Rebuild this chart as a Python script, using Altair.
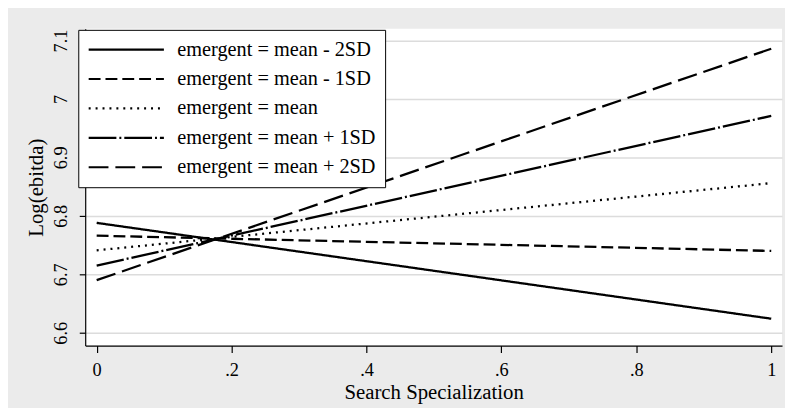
import altair as alt
import pandas as pd

series = [
    "emergent = mean - 2SD",
    "emergent = mean - 1SD",
    "emergent = mean",
    "emergent = mean + 1SD",
    "emergent = mean + 2SD",
]
x_points = [0, 1]
start_vals = [6.788, 6.766, 6.741, 6.715, 6.690]
end_vals = [6.624, 6.740, 6.856, 6.971, 7.086]
dash_styles = [[1, 0], [12, 5], [2, 5], [28, 3, 2, 3], [20, 7]]
x_ticks = [0, 0.2, 0.4, 0.6, 0.8, 1]
y_ticks = [6.6, 6.7, 6.8, 6.9, 7.0, 7.1]

rows = []
for s, a, b in zip(series, start_vals, end_vals):
    rows.append({"series": s, "x": x_points[0], "y": a})
    rows.append({"series": s, "x": x_points[1], "y": b})
df = pd.DataFrame(rows)

FONT = "Liberation Serif"

chart = alt.Chart(df).mark_line(color="black", strokeWidth=2.3).encode(
    x=alt.X(
        "x:Q",
        scale=alt.Scale(domain=[-0.017, 1.016], nice=False, zero=False),
        axis=alt.Axis(
            values=x_ticks,
            labelExpr="datum.value == 0 ? '0' : datum.value == 1 ? '1' : replace(format(datum.value, '.1f'), '0.', '.')",
            title="Search Specialization",
            grid=False,
            tickSize=7,
            labelPadding=8,
            labelFontSize=18.5,
            titleFontSize=21,
            titlePadding=3,
        ),
    ),
    y=alt.Y(
        "y:Q",
        scale=alt.Scale(domain=[6.578, 7.12], nice=False, zero=False),
        axis=alt.Axis(
            values=y_ticks,
            format=".1~f",
            title="Log(ebitda)",
            grid=True,
            gridColor="#dcdcdc",
            gridWidth=1.5,
            tickSize=6,
            labelAngle=-90,
            labelAlign="center",
            labelBaseline="alphabetic",
            labelPadding=13,
            labelFontSize=18.5,
            titleFontSize=21,
            titlePadding=5,
        ),
    ),
    strokeDash=alt.StrokeDash(
        "series:N",
        scale=alt.Scale(domain=series, range=dash_styles),
        legend=alt.Legend(
            title=None,
            orient="none",
            legendX=-7,
            legendY=1,
            fillColor="white",
            strokeColor="black",
            padding=9,
            symbolType="M-1,0H7",
            symbolSize=361,
            symbolStrokeWidth=2.2,
            symbolStrokeColor="black",
            labelFont=FONT,
            labelFontSize=20.5,
            labelColor="black",
            labelOffset=69,
            rowPadding=7.7,
            labelLimit=400,
            zindex=2,
        ),
    ),
).properties(
    width=704,
    height=320,
    padding={"left": 78, "top": 19, "right": 3, "bottom": 61},
    autosize=alt.AutoSizeParams(type="none"),
    background="#ebebeb",
).configure_view(
    fill="white",
    strokeWidth=0,
).configure_axis(
    domainColor="black",
    tickColor="black",
    domainWidth=1.2,
    tickWidth=1.2,
    labelColor="black",
    titleColor="black",
    labelFont=FONT,
    titleFont=FONT,
    titleFontWeight="normal",
)

chart.save("out.html", embed_options={"renderer": "svg", "actions": False})
